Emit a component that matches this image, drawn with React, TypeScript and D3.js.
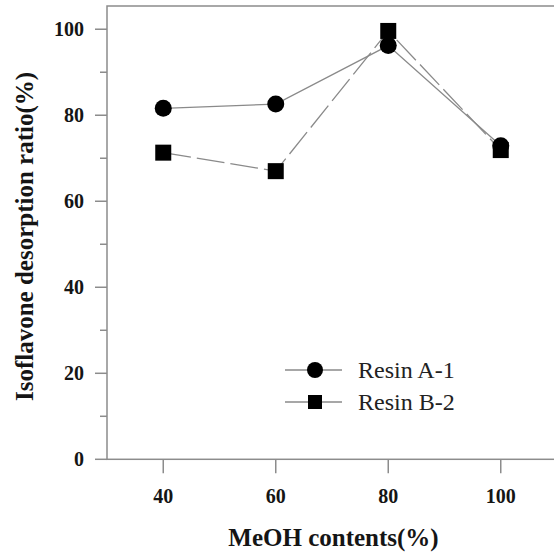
import React from "react";
import * as d3 from "d3";

// MeOH content (%) on the x axis
const meohContents = [40, 60, 80, 100];
// Isoflavone desorption ratio (%) for each resin
const resinA1 = [81.6, 82.6, 96.2, 72.9];
const resinB2 = [71.3, 67.0, 99.6, 71.9];
const seriesNames = ["Resin A-1", "Resin B-2"];
const xTickValues = [40, 60, 80, 100];
const yMajorTicks = [0, 20, 40, 60, 80, 100];
const yMinorTicks = [10, 30, 50, 70, 90];

const W = 554;
const H = 557;
const FONT = "'Liberation Serif', 'Times New Roman', serif";
const AXIS_COLOR = "#8c8c8c";
const LINE_COLOR = "#8a8a8a";
const INK = "#151515";

export default function App() {
  const x = d3.scaleLinear().domain([30, 110]).range([107, 557]);
  const y = d3.scaleLinear().domain([0, 105.4]).range([459.3, 6]);

  const ptsA = meohContents.map((m, i) => [x(m), y(resinA1[i])] as [number, number]);
  const ptsB = meohContents.map((m, i) => [x(m), y(resinB2[i])] as [number, number]);
  const line = d3.line();

  const circleR = 8.5;
  const sq = 16;

  const legendX0 = 285;
  const legendX1 = 342;
  const legendMx = 315;
  const legendRows = [370, 402];

  return (
    <svg
      width={W}
      height={H}
      style={{ position: "absolute", left: 0, top: 0, background: "#fff" }}
    >
      <rect x={0} y={0} width={W} height={H} fill="#fff" />

      {/* plot frame */}
      <rect
        x={x(30)}
        y={y(105.4)}
        width={x(110) - x(30)}
        height={y(0) - y(105.4)}
        fill="none"
        stroke={AXIS_COLOR}
        strokeWidth={1.5}
      />

      {/* y ticks */}
      {yMajorTicks.map((t) => (
        <g key={"ym" + t}>
          <line x1={x(30) - 12} x2={x(30)} y1={y(t)} y2={y(t)} stroke={AXIS_COLOR} strokeWidth={1.5} />
          <text
            x={84}
            y={y(t) + 7}
            textAnchor="end"
            fontFamily={FONT}
            fontWeight="bold"
            fontSize={20}
            fill={INK}
          >
            {t}
          </text>
        </g>
      ))}
      {yMinorTicks.map((t) => (
        <line key={"yn" + t} x1={x(30) - 7} x2={x(30)} y1={y(t)} y2={y(t)} stroke={AXIS_COLOR} strokeWidth={1.5} />
      ))}

      {/* x ticks */}
      {xTickValues.map((t) => (
        <g key={"x" + t}>
          <line x1={x(t)} x2={x(t)} y1={y(0)} y2={y(0) + 14} stroke={AXIS_COLOR} strokeWidth={1.5} />
          <text
            x={x(t)}
            y={503}
            textAnchor="middle"
            fontFamily={FONT}
            fontWeight="bold"
            fontSize={20}
            fill={INK}
          >
            {t}
          </text>
        </g>
      ))}

      {/* axis titles */}
      <text
        x={333.5}
        y={546}
        textAnchor="middle"
        fontFamily={FONT}
        fontWeight="bold"
        fontSize={25}
        fill={INK}
      >
        MeOH contents(%)
      </text>
      <text
        transform="translate(33, 236.5) rotate(-90)"
        textAnchor="middle"
        fontFamily={FONT}
        fontWeight="bold"
        fontSize={25}
        fill={INK}
      >
        Isoflavone desorption ratio(%)
      </text>

      {/* series lines */}
      <path d={line(ptsA) || ""} fill="none" stroke={LINE_COLOR} strokeWidth={1.3} />
      <path
        d={line(ptsB) || ""}
        fill="none"
        stroke={LINE_COLOR}
        strokeWidth={1.3}
        strokeDasharray="28 6"
      />

      {/* markers */}
      {ptsB.map(([px, py], i) => (
        <rect key={"b" + i} x={px - sq / 2} y={py - sq / 2} width={sq} height={sq} fill="#000" />
      ))}
      {ptsA.map(([px, py], i) => (
        <circle key={"a" + i} cx={px} cy={py} r={circleR} fill="#000" />
      ))}

      {/* legend */}
      {seriesNames.map((name, i) => {
        const ly = legendRows[i];
        return (
          <g key={name}>
            <line
              x1={legendX0}
              x2={legendX1}
              y1={ly}
              y2={ly}
              stroke={LINE_COLOR}
              strokeWidth={1.3}
            />
            {i === 0 ? (
              <circle cx={legendMx} cy={ly} r={8} fill="#000" />
            ) : (
              <rect x={legendMx - 7} y={ly - 7} width={14} height={14} fill="#000" />
            )}
            <text
              x={358}
              y={ly + 8}
              fontFamily={FONT}
              fontSize={24}
              fill="#222"
            >
              {name}
            </text>
          </g>
        );
      })}
    </svg>
  );
}
